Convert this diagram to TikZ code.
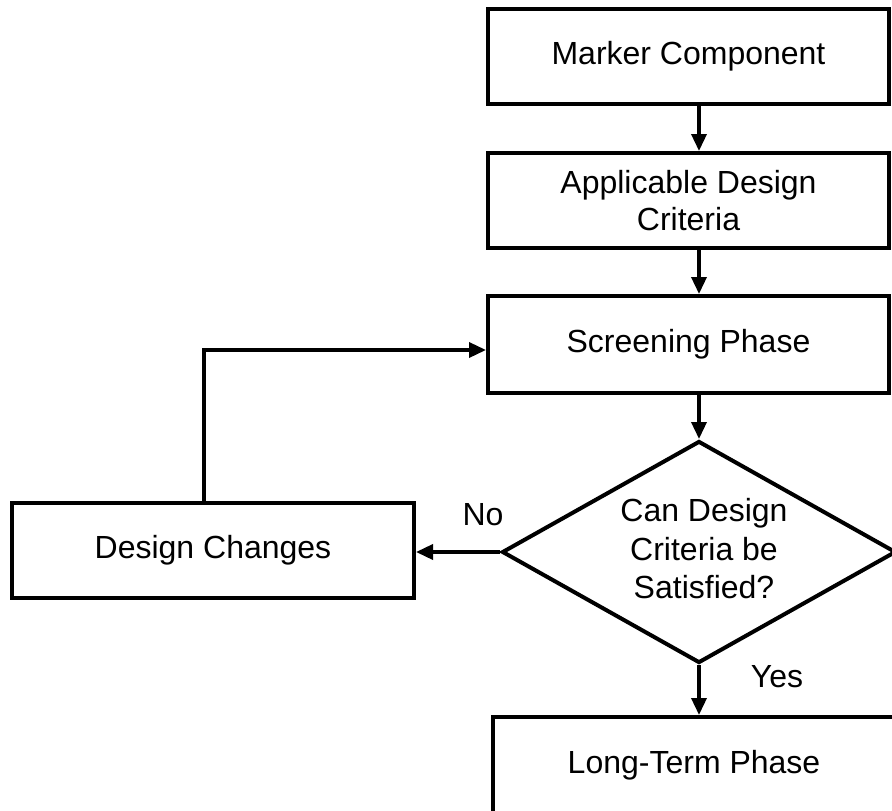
\documentclass[tikz,border=0pt]{standalone}
\usepackage{fontspec}
\setmainfont{Liberation Sans}
\usepackage{tikz}
\usetikzlibrary{arrows.meta,shapes.geometric,positioning}

\begin{document}
\begin{tikzpicture}[x=1pt,y=-1pt,
    every node/.style={font=\fontsize{32}{37}\selectfont},
    box/.style={draw, line width=4pt, minimum width=401pt, minimum height=95pt, inner sep=0pt, align=center},
    arr/.style={line width=3.5pt, -{Triangle[length=17pt,width=15pt]}}]
				\useasboundingbox (0,0) rectangle (892,811);
				\node[box] (mc) at (688.5,56) {Marker Component};
				\node[box] (adc) at (688.5,200.5) {Applicable Design\\Criteria};
				\node[box, minimum height=97pt] (scr) at (688.5,344.5) {Screening Phase};
				\node[draw, diamond, line width=4pt, minimum width=394pt, minimum height=222pt, inner sep=0pt] (q) at (699,552) {};
				\node[align=center, font=\fontsize{32}{38.5}\selectfont] (qt) at (704,549) {Can Design\\Criteria be\\Satisfied?};
				\node[box, minimum width=402pt] (dc) at (213,550.5) {Design Changes};
				\node[box, minimum width=402pt, minimum height=96pt] (lt) at (694,765) {Long-Term Phase};
				\node (no) at (483,515) {No};
				\node (yes) at (777,677) {Yes};
				\coordinate (up) at (204,350);
				
				\draw [arr] (mc.south -| q) to (adc.north -| q);
				\draw [arr] (adc.south -| q) to (scr.north -| q);
				\draw [arr] (scr.south -| q) to (q.north);
				\draw [arr] (q.west) to (q.west -| dc.east);
				\draw [arr] (q.south) to (lt.north -| q);
				\draw [arr] (dc.north -| up) -- (up) -- (up -| scr.west);
				\end{tikzpicture}
\end{document}
